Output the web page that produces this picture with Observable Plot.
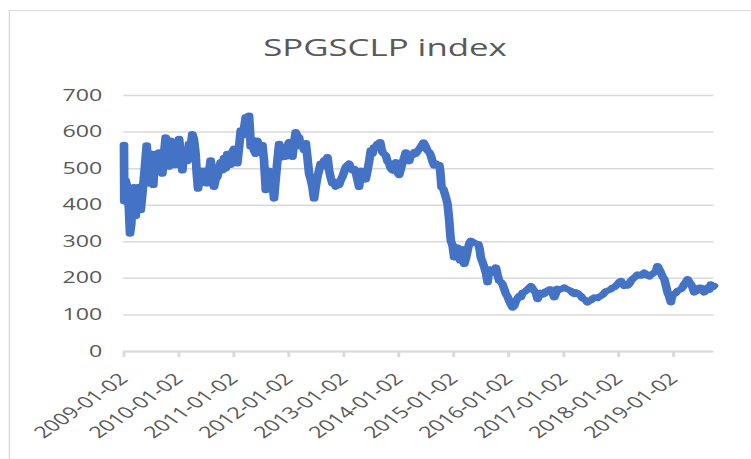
<!DOCTYPE html>
<html><head><meta charset="utf-8">
<script src="https://cdn.jsdelivr.net/npm/d3@7"></script>
<script src="https://cdn.jsdelivr.net/npm/@observablehq/plot@0.6"></script>
<style>
html,body{margin:0;padding:0;background:#fff;overflow:hidden;width:751px;height:459px;}
#wrap{position:relative;width:518px;height:459px;transform:scaleX(1.45);transform-origin:0 0;overflow:hidden;font-family:"Open Sans",sans-serif;}
#frame{position:absolute;left:5.5px;top:9.5px;width:600px;height:600px;border:1px solid #d9d9d9;box-sizing:border-box;}
#title{position:absolute;left:0;width:531px;top:35px;text-align:center;font-size:24px;line-height:24px;color:#595959;}
#chart{position:absolute;left:0;top:0;}
</style></head><body>
<div id="wrap"><div id="frame"></div><div id="title">SPGSCLP index</div><div id="chart"></div></div>
<script>
const startDate = "2009-01-02";
const tickLabels = ["2009-01-02","2010-01-02","2011-01-02","2012-01-02","2013-01-02","2014-01-02","2015-01-02","2016-01-02","2017-01-02","2018-01-02","2019-01-02"];
const yTicks = [0,100,200,300,400,500,600,700];
// days since 2009-01-02
const days = [0,2,11,27,40,49,55,66,78,89,100,111,122,133,142,151,160,166,173,182,188,195,204,211,222,233,244,255,266,277,288,299,310,321,332,343,355,
366,377,388,399,410,421,432,443,454,465,476,483,492,501,510,519,532,543,554,565,576,587,598,609,620,632,643,654,665,676,687,698,709,720,
731,742,753,765,776,787,798,809,820,831,838,842,853,864,875,886,897,909,920,931,942,953,964,975,986,997,1008,1019,1031,1042,1053,1064,1075,1086,
1097,1108,1119,1130,1141,1152,1163,1174,1186,1197,1208,1219,1230,1241,1252,1263,1274,1285,1296,1307,1318,1330,1341,1352,1363,1374,1385,1396,1407,1418,1429,1440,1451,
1462,1474,1485,1496,1507,1518,1529,1540,1551,1562,1573,1584,1595,1606,1618,1629,1640,1651,1662,1673,1684,1695,1702,1711,1717,1728,1740,1751,1762,1773,1784,1795,1806,1817,1828,
1840,1851,1862,1873,1884,1895,1906,1917,1928,1939,1950,1962,1973,1990,2006,2017,2028,2039,2050,2061,2072,2084,2095,2101,2110,2121,2132,2143,2150,2161,2168,2172,2183,
2194,2205,2216,2225,2234,2243,2250,2256,2261,2272,2283,2294,2305,2316,2327,2340,2354,2363,2371,2382,2394,2405,2416,2422,2431,2440,2449,2460,2471,2482,2493,2504,2515,2527,2538,2549,
2560,2571,2582,2593,2604,2615,2626,2637,2648,2659,2671,2682,2693,2704,2715,2726,2737,2748,2759,2770,2781,2792,2803,2814,2826,2837,2848,2859,2870,2881,2892,2903,2914,
2925,2936,2947,2958,2970,2981,2992,3003,3014,3025,3036,3047,3058,3069,3080,3091,3103,3114,3125,3136,3147,3158,3169,3180,3191,3202,3213,3224,3235,3246,3258,3269,3280,
3291,3302,3313,3324,3335,3346,3357,3368,3379,3390,3401,3413,3424,3435,3446,3457,3468,3479,3490,3501,3512,3523,3534,3545,3556,3567,3578,3590,3601,3612,3623,3634,3640,3649,
3656,3667,3678,3689,3700,3711,3722,3733,3745,3756,3767,3778,3789,3800,3811,3822,3833,3844,3855,3866,3877,3888,3899,3910,3921];
const values = [565,410,468,440,322,350,414,450,370,440,450,386,430,477,520,564,500,541,459,530,541,455,520,541,495,545,510,486,540,586,570,505,577,510,560,509,560,
582,540,495,545,550,520,568,560,595,580,541,490,445,470,495,460,495,480,459,490,523,490,450,470,477,500,518,495,530,500,541,530,510,545,
555,545,514,560,605,590,610,641,600,645,600,560,580,550,540,577,560,550,565,520,441,470,495,480,468,418,470,520,568,530,560,545,532,560,
573,555,532,570,600,590,586,560,568,550,570,530,486,470,450,418,450,477,495,514,505,523,520,532,495,475,459,465,450,460,455,468,477,
490,505,510,514,500,495,500,490,470,450,495,475,490,470,495,520,550,540,559,560,568,560,573,555,545,540,536,520,514,500,495,510,518,490,482,
500,517,530,545,525,520,540,536,545,540,548,554,560,572,560,549,545,536,520,508,515,508,510,494,449,445,431,415,403,358,320,303,290,
257,275,285,260,248,275,280,260,239,255,276,295,303,300,298,295,294,280,257,245,230,215,189,210,225,215,221,215,230,210,193,190,184,170,157,150,
138,128,120,125,138,145,152,148,161,162,166,170,175,179,172,166,160,143,155,161,155,157,165,166,170,170,160,148,160,172,168,170,172,
175,172,170,168,166,160,157,162,160,155,152,145,143,140,134,138,140,145,148,147,146,150,152,155,160,165,166,168,170,175,175,180,184,
190,193,185,179,185,180,185,193,198,202,205,211,208,207,212,216,212,207,205,210,212,216,220,234,225,216,205,198,180,161,150,134,150,155,
157,160,166,168,170,175,184,190,198,190,184,175,161,170,166,175,175,168,161,170,175,168,184,175,180];

const parse = d3.utcParse("%Y-%m-%d");
const start = parse(startDate);
const data = days.map((d, i) => ({date: d3.utcDay.offset(start, d), value: values[i]}));
const tickDates = tickLabels.map(parse);

const chart = Plot.plot({
  width: 518, height: 459,
  marginLeft: 85, marginRight: 26, marginTop: 95, marginBottom: 108,
  style: {fontFamily: '"Open Sans", sans-serif', fontSize: "16px", background: "transparent", color: "#595959"},
  x: {type: "utc", domain: [start, data[data.length - 1].date]},
  y: {domain: [0, 700]},
  marks: [
    Plot.gridY(yTicks, {stroke: "#d9d9d9", strokeOpacity: 1, strokeWidth: 1.5}),
    Plot.axisY(yTicks, {tickSize: 0, tickPadding: 15, fill: "#595959", label: null, fontSize: 16}),
    Plot.ruleY([0], {stroke: "#d9d9d9", strokeWidth: 2}),
    Plot.axisX(tickDates, {tickSize: 6, stroke: "#d9d9d9", strokeWidth: 2, fill: "#595959", tickRotate: -45, tickPadding: 19, tickFormat: d3.utcFormat("%Y-%m-%d"), label: null, fontSize: 16}),
    Plot.line(data, {x: "date", y: "value", stroke: "#4472C4", strokeWidth: 6, strokeLinejoin: "round", strokeLinecap: "round"})
  ]
});
document.getElementById("chart").appendChild(chart);
</script>
</body></html>
